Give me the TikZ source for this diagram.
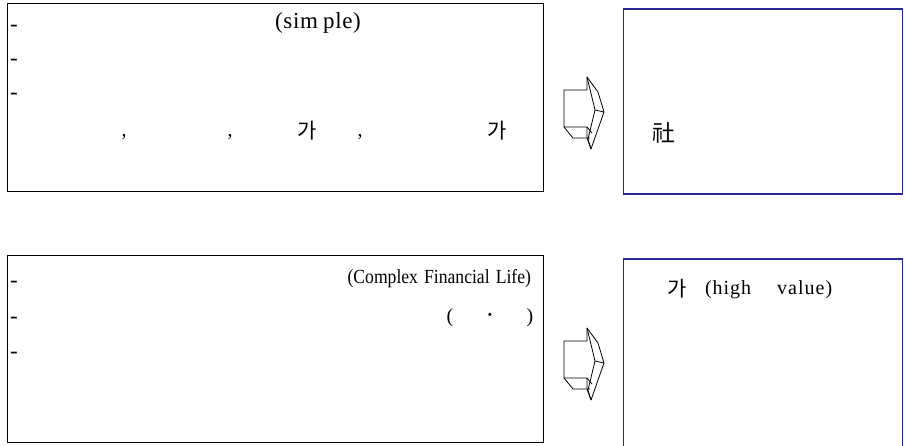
\documentclass[tikz,border=0pt]{standalone}
\usepackage{fontspec}
\setmainfont{Liberation Serif}
\newfontfamily\kr{Noto Sans CJK KR}
\definecolor{boxblue}{RGB}{40,40,150}
\begin{document}
\begin{tikzpicture}[x=1pt,y=-1pt,
  every node/.style={inner sep=0pt,outer sep=0pt},
  txt/.style={font=\fontsize{20}{22}\selectfont},
  bullettxt/.style={font=\fontsize{23}{24}\selectfont},
  krt/.style={font=\kr\fontsize{21}{24}\selectfont},
  blackbox/.style={draw=black,line width=1pt,anchor=north west},
  bluebox/.style={anchor=north west},
  blockarrow/.pic={
    \draw[line width=0.8pt,line join=round] (0,13) -- (23,13) -- (23,0) -- (34,15) -- (40,35) -- (27,72) -- (23,61) -- (23,50) -- (0,50) -- cycle;
    \draw[line width=0.8pt,line join=round] (0,50) -- (9,61) -- (26,61);
    \draw[line width=0.8pt,line join=round] (23,0) -- (31,33) -- (40,35);
    \draw[line width=0.8pt,line join=round] (31,33) -- (24,62) -- (27,72);
    \draw[line width=0.8pt,line join=round] (23,50) -- (28,56);
  }]
\useasboundingbox[fill=white] (0,0) rectangle (905,445);
% boxes
\node[blackbox,minimum width=535.5pt,minimum height=187.3pt] (boxA) at (7.5,3.7) {};
\node[blackbox,minimum width=535.5pt,minimum height=186.5pt] (boxC) at (7.5,255.7) {};
\node[bluebox,minimum width=278.5pt,minimum height=185pt] (boxB) at (623.8,9) {};
\draw[boxblue,line width=1.3pt] (boxB.south west) rectangle (boxB.north east);
\node[bluebox,minimum width=278.5pt,minimum height=187pt] (boxD) at (623.8,259) {};
\draw[boxblue,line width=1.3pt] (boxD.south west) -- (boxD.north west) -- (boxD.north east) -- (boxD.south east);
% arrows
\pic at (564,77) {blockarrow};
\pic at (564,328) {blockarrow};
% box A text
\node[bullettxt] (a1) at (14,28) {-};
\node[bullettxt] (a2) at (14,62) {-};
\node[bullettxt] (a3) at (14,96) {-};
\node[font=\fontsize{23}{24}\selectfont\addfontfeature{LetterSpace=3}] (simple) at (318,23) {(sim\hspace{5pt}ple)};
\node[txt] (c1) at (124,137) {,};
\node[txt] (c2) at (230,137) {,};
\node[txt] (c3) at (360,137) {,};
\node[krt] (ga1) at (307,131) {가};
\node[krt] (ga2) at (497,131) {가};
% box B text
\node[font=\kr\fontsize{23}{24}\selectfont] (sa) at (664,133) {社};
% box C text
\node[bullettxt] (b1) at (14,284) {-};
\node[bullettxt] (b2) at (14,320) {-};
\node[bullettxt] (b3) at (14,355) {-};
\node[txt,anchor=east] (cfl) at (531,279) {\scalebox{0.88}[1]{(Complex\hspace{7pt}Financial\hspace{7pt}Life)}};
\node[txt] (lp) at (450,318) {(};
\node[txt] (dot) at (490,318) {\fontsize{26}{26}\selectfont ·};
\node[txt] (rp) at (530,318) {)};
% box D text
\node[krt,anchor=west] (ga3) at (667,289) {가};
\node[anchor=west,font=\fontsize{20}{22}\selectfont\addfontfeature{LetterSpace=5}] (hv) at (705,290) {(high\hspace{26pt}value)};
\end{tikzpicture}
\end{document}
